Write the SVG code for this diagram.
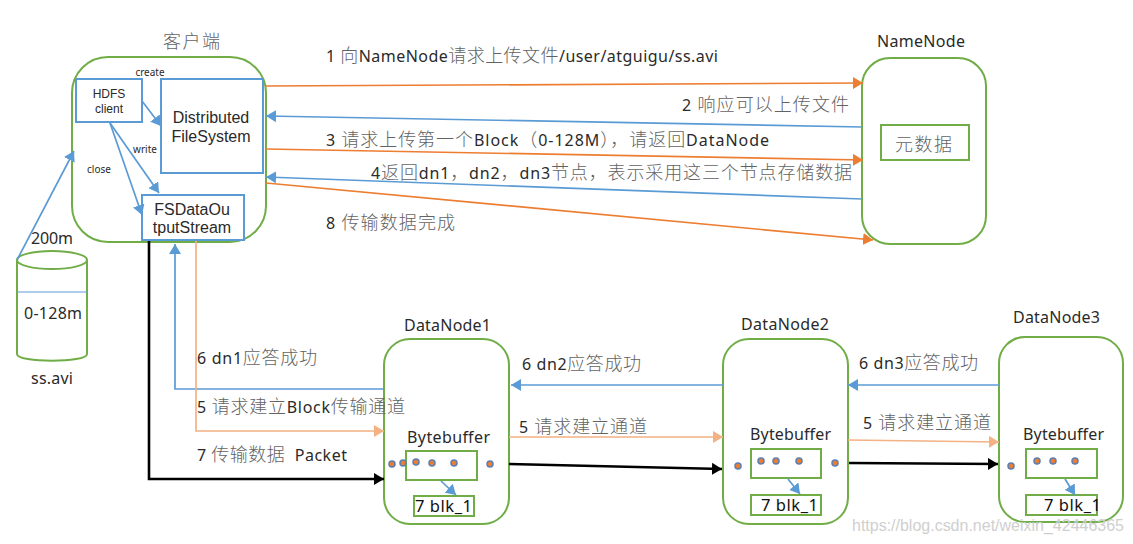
<svg xmlns="http://www.w3.org/2000/svg" width="1133" height="544" viewBox="0 0 1133 544">
<style>
text{font-family:"Noto Sans","Noto Sans CJK SC",sans-serif;fill:#2a2a2a}
.c{font-size:16px}
.h{fill:#636363;font-weight:300;font-size:18px}
.n{font-size:16px}
.m{text-anchor:middle}
.g{fill:#fff;stroke:#70ad47;stroke-width:2}
.b{fill:#fff;stroke:#5b9bd5;stroke-width:2}
.s{font-size:10px}
.a{font-family:"Liberation Sans",sans-serif}
.k{font-size:16.5px;fill:#111}
.l{fill:none;stroke-width:1.7}
.bl{stroke:#5b9bd5;marker-end:url(#ab)}
.or{stroke:#ed7d31;marker-end:url(#ao)}
.pe{stroke:#f4b183;marker-end:url(#ap)}
.bk{stroke:#000;stroke-width:2.6;marker-end:url(#ak)}
.d{fill:#ed7d31;stroke:#5b7fb0;stroke-width:1.5}
</style>
<defs>
<marker id="ab" markerUnits="userSpaceOnUse" markerWidth="11" markerHeight="12" refX="10" refY="6" orient="auto"><path d="M0 0L10 6L0 12z" fill="#5b9bd5"/></marker>
<marker id="ao" markerUnits="userSpaceOnUse" markerWidth="11" markerHeight="12" refX="10" refY="6" orient="auto"><path d="M0 0L10 6L0 12z" fill="#ed7d31"/></marker>
<marker id="ap" markerUnits="userSpaceOnUse" markerWidth="11" markerHeight="12" refX="10" refY="6" orient="auto"><path d="M0 0L10 6L0 12z" fill="#f4b183"/></marker>
<marker id="ak" markerUnits="userSpaceOnUse" markerWidth="11" markerHeight="12" refX="10" refY="6" orient="auto"><path d="M0 0L10 6L0 12z" fill="#000"/></marker>
</defs>

<g id="client">
<rect class="g" x="72" y="57" width="194" height="185" rx="36"/>
<text class="c h" x="163" y="48" textLength="57">客户端</text>
<text class="s m" x="150" y="76">create</text>
<text class="s m" x="145" y="153">write</text>
<text class="s m" x="99" y="173">close</text>
</g>
<g id="hdfs-client">
<rect class="b" x="76" y="79" width="66" height="43"/>
<text class="a m" x="109" y="98" font-size="12">HDFS</text>
<text class="a m" x="109" y="113" font-size="12">client</text>
</g>
<g id="distributed-filesystem">
<rect class="b" x="161" y="79" width="102" height="94"/>
<text class="a m" x="211" y="123" font-size="16">Distributed</text>
<text class="a m" x="211" y="142" font-size="16">FileSystem</text>
</g>
<g id="fsdataoutputstream">
<rect class="b" x="142" y="195" width="102" height="45"/>
<text class="a m" x="192" y="215" font-size="16">FSDataOu</text>
<text class="a m" x="192" y="233" font-size="16">tputStream</text>
</g>
<g id="namenode">
<rect class="g" x="862" y="58" width="124" height="186" rx="28"/>
<text class="n" x="877" y="47" textLength="88">NameNode</text>
<rect class="g" x="881" y="125" width="88" height="35"/>
<text class="c h" x="895" y="151" textLength="57">元数据</text>
</g>
<g id="file">
<path class="g" d="M17 260V354C17 363 87 363 87 354V260"/>
<ellipse class="g" cx="52" cy="260" rx="35" ry="9"/>
<path d="M17 292H87" stroke="#5b9bd5" stroke-width="1" fill="none"/>
<text class="n" x="24" y="319" textLength="58">0-128m</text>
<text class="n" x="31" y="244" textLength="42">200m</text>
<text class="n" x="31" y="384" textLength="42">ss.avi</text>
</g>
<g id="datanode1">
<rect class="g" x="384" y="339" width="125" height="185" rx="26"/>
<text class="n" x="404" y="331" textLength="87">DataNode1</text>
<text class="n" x="407" y="443" textLength="83">Bytebuffer</text>
<rect class="g" x="406" y="451" width="71" height="29"/>
<rect class="g" x="414" y="496" width="60" height="20"/>
<text class="k" x="415" y="512" textLength="57">7 blk_1</text>
<circle class="d" cx="392" cy="464" r="3"/><circle class="d" cx="403" cy="463" r="3"/><circle class="d" cx="416" cy="462" r="3"/><circle class="d" cx="432" cy="463" r="3"/><circle class="d" cx="454" cy="463" r="3"/><circle class="d" cx="490" cy="464" r="3"/>
</g>
<g id="datanode2">
<rect class="g" x="723" y="339" width="125" height="185" rx="26"/>
<text class="n" x="741" y="330" textLength="88">DataNode2</text>
<text class="n" x="750" y="440" textLength="81">Bytebuffer</text>
<rect class="g" x="751" y="449" width="70" height="29"/>
<rect class="g" x="751" y="495" width="70" height="20"/>
<text class="k" x="761" y="511" textLength="57">7 blk_1</text>
<circle class="d" cx="738" cy="466" r="3"/><circle class="d" cx="761" cy="461" r="3"/><circle class="d" cx="776" cy="461" r="3"/><circle class="d" cx="799" cy="461" r="3"/><circle class="d" cx="835" cy="463" r="3"/>
</g>
<g id="datanode3">
<rect class="g" x="999" y="337" width="124" height="185" rx="26"/>
<text class="n" x="1013" y="323" textLength="87">DataNode3</text>
<text class="n" x="1023" y="440" textLength="81">Bytebuffer</text>
<rect class="g" x="1026" y="449" width="71" height="29"/>
<rect class="g" x="1026" y="495" width="71" height="20"/>
<text class="k" x="1044" y="511" textLength="57">7 blk_1</text>
<circle class="d" cx="1011" cy="466" r="3"/><circle class="d" cx="1037" cy="461" r="3"/><circle class="d" cx="1053" cy="461" r="3"/><circle class="d" cx="1075" cy="461" r="3"/>
</g>

<g id="connectors">
<path class="l bl" d="M17 260L74 151"/>
<path class="l bl" d="M142 101L161 126"/>
<path class="l bl" d="M110 123L159 193"/>
<path class="l bl" d="M110 123L142 215"/>
<path class="l or" d="M266 86L863 83"/>
<path class="l bl" d="M862 127L266 116"/>
<path class="l or" d="M266 149L863 160"/>
<path class="l bl" d="M862 199L266 177"/>
<path class="l or" d="M266 183L873 240"/>
<path class="l bk" d="M149 241V479H384"/>
<path class="l bl" d="M384 389H175V244"/>
<path class="l pe" d="M196 241V431H384"/>
<path class="l bl" d="M723 385H511"/>
<path class="l bl" d="M999 385H848"/>
<path class="l pe" d="M509 437H723"/>
<path class="l pe" d="M848 440L999 442"/>
<path class="l bk" d="M509 464L722 469"/>
<path class="l bk" d="M849 463L998 464"/>
<path class="l bl" d="M441 481L456 495"/>
<path class="l bl" d="M788 479L800 494"/>
<path class="l bl" d="M1065 479L1075 495"/>
</g>

<g id="labels">
<text class="c" x="326" y="62" textLength="392">1 <tspan class="h">向</tspan>NameNode<tspan class="h">请求上传文件</tspan>/user/atguigu/ss.avi</text>
<text class="c" x="682" y="111" textLength="167">2 <tspan class="h">响应可以上传文件</tspan></text>
<text class="c" x="326" y="146" textLength="443">3 <tspan class="h">请求上传第一个</tspan>Block<tspan class="h">（</tspan>0-128M<tspan class="h">），请返回</tspan>DataNode</text>
<text class="c" x="371" y="179" textLength="481">4<tspan class="h">返回</tspan>dn1<tspan class="h">，</tspan>dn2<tspan class="h">，</tspan>dn3<tspan class="h">节点，表示采用这三个节点存储数据</tspan></text>
<text class="c" x="326" y="229" textLength="129">8 <tspan class="h">传输数据完成</tspan></text>
<text class="c" x="197" y="364" textLength="120">6 dn1<tspan class="h">应答成功</tspan></text>
<text class="c" x="197" y="413" textLength="208">5 <tspan class="h">请求建立</tspan>Block<tspan class="h">传输通道</tspan></text>
<text class="c" x="197" y="461" textLength="150">7 <tspan class="h">传输数据</tspan>&#160; Packet</text>
<text class="c" x="522" y="370" textLength="119">6 dn2<tspan class="h">应答成功</tspan></text>
<text class="c" x="859" y="369" textLength="119">6 dn3<tspan class="h">应答成功</tspan></text>
<text class="c" x="519" y="433" textLength="128">5 <tspan class="h">请求建立通道</tspan></text>
<text class="c" x="863" y="429" textLength="128">5 <tspan class="h">请求建立通道</tspan></text>
<text class="a" x="852" y="531" font-size="16" textLength="272" style="fill:#cfcfcf">https://blog.csdn.net/weixin_42446365</text>
</g>
</svg>
